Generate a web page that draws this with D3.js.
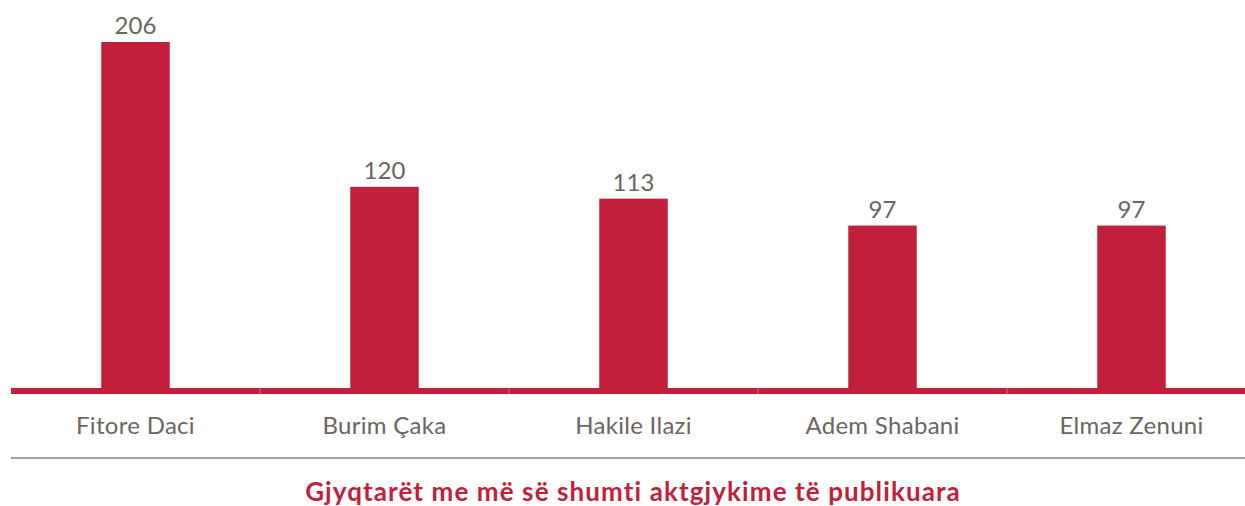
<!DOCTYPE html>
<html>
<head>
<meta charset="utf-8">
<script src="https://cdn.jsdelivr.net/npm/d3@7"></script>
<style>
  body { margin: 0; background: #fff; }
  svg { display: block; font-family: Lato, "Open Sans", sans-serif; }
</style>
</head>
<body>
<svg width="1245" height="506"></svg>
<script>
const judges = ['Fitore Daci', 'Burim Çaka', 'Hakile Ilazi', 'Adem Shabani', 'Elmaz Zenuni']
const rulings = [206, 120, 113, 97, 97]
const chartTitle = 'Gjyqtarët me më së shumti aktgjykime të publikuara'

const red = '#c21f3b'
const grey = '#6b6461'

const svg = d3.select('svg')
const baseY = 389

const x = d3.scaleBand()
    .domain(judges)
    .range([11, 1256])
    .paddingInner(0.725)
    .paddingOuter(0.3625)

const y = d3.scaleLinear()
    .domain([0, 206])
    .range([baseY, 42])

// bars
svg.append('g')
    .selectAll('rect')
    .data(judges)
    .join('rect')
    .attr('x', d => x(d))
    .attr('width', x.bandwidth())
    .attr('y', (d, i) => y(rulings[i]))
    .attr('height', (d, i) => baseY - y(rulings[i]))
    .attr('fill', red)

// value labels
svg.append('g')
    .selectAll('text')
    .data(judges)
    .join('text')
    .attr('x', d => x(d) + x.bandwidth() / 2)
    .attr('y', (d, i) => y(rulings[i]) - 8)
    .attr('text-anchor', 'middle')
    .attr('font-size', 24)
    .attr('fill', grey)
    .text((d, i) => rulings[i])

// baseline
svg.append('rect')
    .attr('x', 11).attr('y', baseY - 1)
    .attr('width', 1234).attr('height', 6)
    .attr('fill', red)

// category separators on the axis
const step = x.step()
svg.append('g')
    .selectAll('line')
    .data(d3.range(1, judges.length))
    .join('line')
    .attr('x1', i => 11 + i * step).attr('x2', i => 11 + i * step)
    .attr('y1', baseY - 1).attr('y2', baseY + 5)
    .attr('stroke', '#d96b7d').attr('stroke-width', 1)

// category labels
svg.append('g')
    .selectAll('text')
    .data(judges)
    .join('text')
    .attr('x', d => x(d) + x.bandwidth() / 2)
    .attr('y', 434)
    .attr('text-anchor', 'middle')
    .attr('font-size', 24)
    .attr('letter-spacing', 0.3)
    .attr('fill', grey)
    .text(d => d)

// grey rule
svg.append('rect')
    .attr('x', 11).attr('y', 457)
    .attr('width', 1234).attr('height', 2)
    .attr('fill', '#a3a3a3')

// title
svg.append('text')
    .attr('x', 633)
    .attr('y', 501)
    .attr('text-anchor', 'middle')
    .attr('font-size', 26)
    .attr('font-weight', 'bold')
    .attr('letter-spacing', 1.1)
    .attr('fill', red)
    .text(chartTitle)
</script>
</body>
</html>
